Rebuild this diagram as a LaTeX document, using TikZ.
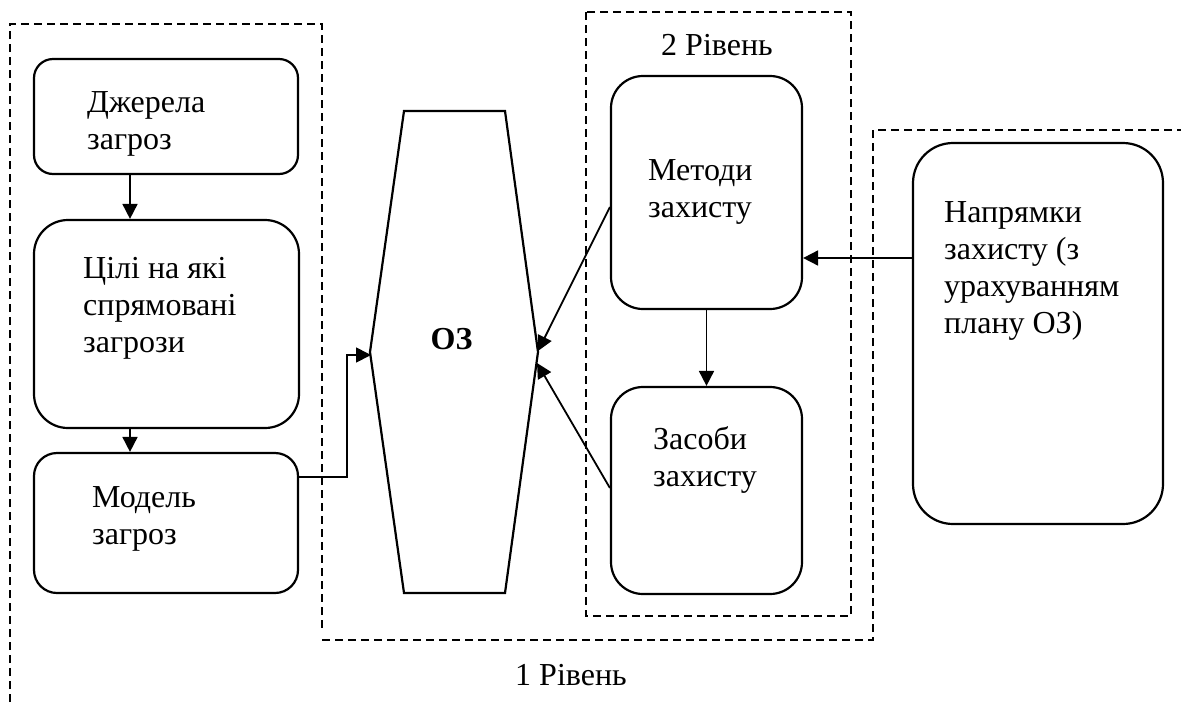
\documentclass[tikz,border=0pt]{standalone}
\usepackage{fontspec}
\setmainfont{Liberation Serif}
\usetikzlibrary{arrows.meta}
\newcommand\topstrut{\rule{0pt}{24pt}}
\begin{document}
\begin{tikzpicture}[x=1pt,y=-1pt,
  box/.style={draw, line width=2.2pt, inner sep=0pt, rectangle},
  txt/.style={anchor=north west, inner sep=0pt, align=left, font=\fontsize{32}{37}\selectfont},
  lbl/.style={anchor=base, inner sep=0pt, font=\fontsize{32}{37}\selectfont},
  arr/.style={line width=1.8pt, -{Triangle[length=15pt,width=15pt]}},
  dsh/.style={line width=1.8pt, dash pattern=on 8pt off 5pt},
  hex/.style={line width=2.2pt, line join=miter}
  ]
\useasboundingbox (0,0) rectangle (1181,702);

% dashed frames
\draw[dsh] (10,702) -- (10,24) -- (322,24) -- (322,630);
\draw[dsh] (322,640) -- (873,640) -- (873,130) -- (1181,130);
\draw[dsh] (586,12) rectangle (851,616);
\node[lbl] (lvl2) at (717,55) {2 Рівень};
\node[lbl] (lvl1) at (571,685) {1 Рівень};

% boxes
\node[box, rounded corners=19pt, minimum width=264pt, minimum height=115pt] (b1) at (166,116.5) {};
\node[box, rounded corners=34pt, minimum width=265pt, minimum height=208pt] (b2) at (166.5,324) {};
\node[box, rounded corners=23pt, minimum width=264pt, minimum height=140pt] (b3) at (166,523) {};
\node[box, rounded corners=32pt, minimum width=191pt, minimum height=233pt] (b4) at (706.5,192.5) {};
\node[box, rounded corners=32pt, minimum width=191pt, minimum height=207pt] (b5) at (706.5,490.5) {};
\node[box, rounded corners=40pt, minimum width=250pt, minimum height=381pt] (b6) at (1038,333.5) {};

% texts
\node[txt] (t1) at (87,88) {\topstrut Джерела\\загроз};
\node[txt] (t2) at (83,254) {\topstrut Цілі на які\\спрямовані\\загрози};
\node[txt] (t3) at (92,483) {\topstrut Модель\\загроз};
\node[txt] (t4) at (648,156) {\topstrut Методи\\захисту};
\node[txt] (t5) at (653,425) {\topstrut Засоби\\захисту};
\node[txt] (t6) at (944,198) {\topstrut Напрямки\\захисту (з\\урахуванням\\плану ОЗ)};

% hexagon OZ
\draw[hex] (404,111) -- (505,111) -- (538,352) -- (505,593) -- (404,593) -- (370,352) -- cycle;
\node[lbl, font=\fontsize{32}{37}\selectfont\bfseries] (oz) at (451.5,349) {ОЗ};
\coordinate (ozL) at (371,355);
\coordinate (ozR1) at (538,351);
\coordinate (ozR2) at (537,363);

% helper coordinates
\coordinate (x130) at (130,0);
\coordinate (y477) at (0,477);
\coordinate (bend) at (347,355);
\coordinate (y207) at (0,207);
\coordinate (y488) at (0,488);
\coordinate (y258) at (0,258);

% connectors
\draw[arr] (b1.south -| x130) -- (b2.north -| x130);
\draw[arr] (b2.south -| x130) -- (b3.north -| x130);
\draw[arr] (b3.east |- y477) -| (bend) -- (ozL);
\draw[arr] (b4.west |- y207) -- (ozR1);
\draw[arr] (b5.west |- y488) -- (ozR2);
\draw[arr] (b4.south) -- (b5.north);
\draw[arr] (b6.west |- y258) -- (b4.east |- y258);
\end{tikzpicture}
\end{document}
